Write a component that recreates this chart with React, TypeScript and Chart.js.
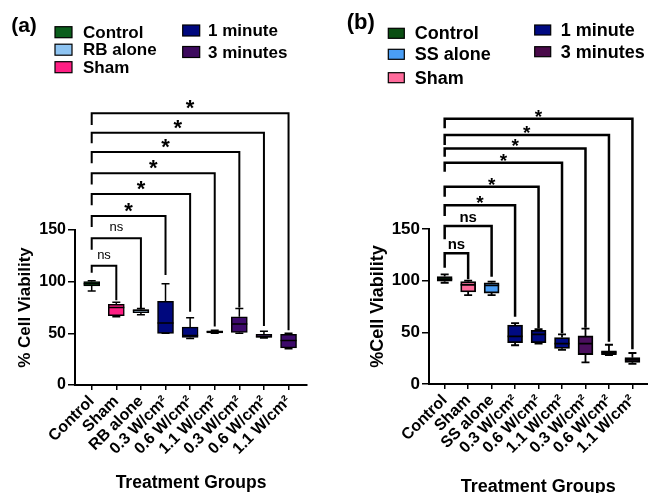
import { useEffect, useRef } from "react";
import { Chart, registerables } from "chart.js";

Chart.register(...registerables);
Chart.defaults.font.family = "'Liberation Sans', Arial, sans-serif";
Chart.defaults.color = "#000";

// ---------- Panel (a) data ----------
const categoriesA = ["Control", "Sham", "RB alone", "0.3 W/cm²", "0.6 W/cm²", "1.1 W/cm²", "0.3 W/cm²", "0.6 W/cm²", "1.1 W/cm²"];
const minA = [91, 66, 68, 50, 45, 50, 50, 45.5, 35];
const q1A = [96, 67, 70, 50, 46, 50.5, 51, 46, 36];
const medianA = [98, 75, 72, 60, 48, 51.5, 59, 47, 43];
const q3A = [100, 78, 73, 81, 56, 52.5, 66, 49, 49];
const maxA = [101, 80, 74, 98, 65, 53, 74, 52, 50];
const boxColorsA = ["#0b6b1e", "#ff1f84", "#8ec4f2", "#00087e", "#00087e", "#00087e", "#3d0a6b", "#3d0a6b", "#3d0a6b"];
const legendLabelsA = ["Control", "RB alone", "Sham", "1 minute", "3 minutes"];
const legendColorsA = ["#0b5e1c", "#8ec4f2", "#ff1f84", "#00087e", "#3d0a5e"];
const bracketTargetsA = [1, 2, 3, 4, 5, 6, 7, 8];
const bracketLevelsA = [115.5, 142, 163.5, 184.8, 204.9, 225.5, 244.2, 263];
const bracketStartsA = [108.7, 131, 153, 174, 194, 214.5, 234, 251.6];
const bracketEndsA = [82, 74.5, 106.5, 71, 56.5, 75, 57, 53];
const bracketLabelsA = ["ns", "ns", "*", "*", "*", "*", "*", "*"];

// ---------- Panel (b) data ----------
const categoriesB = ["Control", "Sham", "SS alone", "0.3 W/cm²", "0.6 W/cm²", "1.1 W/cm²", "0.3 W/cm²", "0.6 W/cm²", "1.1 W/cm²"];
const minB = [98, 86, 86, 37.5, 39, 33, 21, 28, 19.5];
const q1B = [99.5, 89, 88, 40, 40, 34.5, 28.5, 28.5, 21];
const medianB = [101.5, 96, 95.5, 46, 48, 39, 39, 30.5, 23.5];
const q3B = [104, 99, 98, 57, 52, 45, 46.5, 32, 25.5];
const maxB = [106, 100, 99, 59, 53, 48, 53.5, 38, 30];
const boxColorsB = ["#0a4e12", "#ff6b9b", "#4a9ef5", "#000a82", "#000a82", "#000a82", "#4b0f5e", "#1a0022", "#1a0022"];
const legendLabelsB = ["Control", "SS alone", "Sham", "1 minute", "3 minutes"];
const legendColorsB = ["#0a4e12", "#4a9ef5", "#ff6b9b", "#000a82", "#4a0a4a"];
const bracketTargetsB = [1, 2, 3, 4, 5, 6, 7, 8];
const bracketLevelsB = [126.5, 152.9, 172.9, 191, 214.2, 228, 241, 256.8];
const bracketStartsB = [112.6, 140, 162.6, 181.3, 205.5, 220, 231.3, 247.5];
const bracketEndsB = [101.3, 103.8, 65.1, 53.9, 49, 54.5, 41, 33.6];
const bracketLabelsB = ["ns", "ns", "*", "*", "*", "*", "*", "*"];

const yTitleA = "% Cell Viability";
const yTitleB = "%Cell Viability";
const xTitle = "Treatment Groups";

type Panel = {
  letter: string;
  cats: string[];
  min: number[]; q1: number[]; med: number[]; q3: number[]; max: number[];
  colors: string[];
  legendLabels: string[]; legendColors: string[];
  bTargets: number[]; bLevels: number[]; bStarts: number[]; bEnds: number[]; bLabels: string[];
  yTitle: string;
  layout: any;
};

const panelA: Panel = {
  letter: "(a)", cats: categoriesA, min: minA, q1: q1A, med: medianA, q3: q3A, max: maxA,
  colors: boxColorsA, legendLabels: legendLabelsA, legendColors: legendColorsA,
  bTargets: bracketTargetsA, bLevels: bracketLevelsA, bStarts: bracketStartsA, bEnds: bracketEndsA, bLabels: bracketLabelsA,
  yTitle: yTitleA,
  layout: {
    yWidth: 75, xHeight: 108, padTop: 230, padRight: 17, xMin: -0.679, xMax: 8.75,
    barW: 16, capW: 8, boxLW: 1.5, bracketLW: 2,
    letterX: 24, letterY: 26, letterFont: 21,
    sqW: 17, sqH: 11, legFont: 17,
    col1: { sx: 55, tx: 83, ys: [32.2, 49.7, 67.2] },
    col2: { sx: 182.7, tx: 208, ys: [30.5, 52] },
    nsFont: "400 13px 'Liberation Sans'", nsOff: -7,
    starFont: "700 22px 'Liberation Sans'", starOff: 2,
    yTickFont: 16, xTickFont: 16, yTitleFont: 17, yTitlePad: 15, xTitleFont: 17.5, xTitleLH: 1.1,
  },
};

const panelB: Panel = {
  letter: "(b)", cats: categoriesB, min: minB, q1: q1B, med: medianB, q3: q3B, max: maxB,
  colors: boxColorsB, legendLabels: legendLabelsB, legendColors: legendColorsB,
  bTargets: bracketTargetsB, bLevels: bracketLevelsB, bStarts: bracketStartsB, bEnds: bracketEndsB, bLabels: bracketLabelsB,
  yTitle: yTitleB,
  layout: {
    yWidth: 105, xHeight: 109, padTop: 229, padRight: 0, xMin: -0.668, xMax: 8.65,
    barW: 15, capW: 8, boxLW: 1.8, bracketLW: 2.5,
    letterX: 36.7, letterY: 22.5, letterFont: 22,
    sqW: 16, sqH: 10, legFont: 18,
    col1: { sx: 64.3, tx: 90.7, ys: [33.3, 54.3, 77.7] },
    col2: { sx: 210.7, tx: 236.7, ys: [30, 51.7] },
    nsFont: "700 15px 'Liberation Sans'", nsOff: -4,
    starFont: "700 19px 'Liberation Sans'", starOff: 4,
    yTickFont: 17, xTickFont: 16, yTitleFont: 18, yTitlePad: 43, xTitleFont: 18, xTitleLH: 0.7,
  },
};

function makeOverlay(p: Panel) {
  const L = p.layout;
  return {
    id: "boxOverlay",
    afterDatasetsDraw(chart: any) {
      const { ctx, scales } = chart;
      const xs = scales.x, ys = scales.y;
      ctx.save();
      ctx.strokeStyle = "#000";
      ctx.lineWidth = L.boxLW;
      p.cats.forEach((_, i) => {
        const x = xs.getPixelForValue(i);
        const yMin = ys.getPixelForValue(p.min[i]);
        const yMax = ys.getPixelForValue(p.max[i]);
        const yQ1 = ys.getPixelForValue(p.q1[i]);
        const yQ3 = ys.getPixelForValue(p.q3[i]);
        const yMed = ys.getPixelForValue(p.med[i]);
        ctx.beginPath();
        ctx.moveTo(x, yQ3); ctx.lineTo(x, yMax);
        ctx.moveTo(x - L.capW / 2, yMax); ctx.lineTo(x + L.capW / 2, yMax);
        ctx.moveTo(x, yQ1); ctx.lineTo(x, yMin);
        ctx.moveTo(x - L.capW / 2, yMin); ctx.lineTo(x + L.capW / 2, yMin);
        ctx.moveTo(x - L.barW / 2, yMed); ctx.lineTo(x + L.barW / 2, yMed);
        ctx.stroke();
      });
      ctx.restore();
    },
    afterDraw(chart: any) {
      const { ctx, scales } = chart;
      const xs = scales.x, ys = scales.y;
      ctx.save();
      ctx.strokeStyle = "#000";
      ctx.fillStyle = "#000";
      ctx.lineWidth = L.bracketLW;
      ctx.lineJoin = "miter";
      ctx.lineCap = "butt";
      p.bTargets.forEach((t, k) => {
        const x0 = xs.getPixelForValue(0);
        const x1 = xs.getPixelForValue(t);
        const yl = ys.getPixelForValue(p.bLevels[k]);
        ctx.beginPath();
        ctx.moveTo(x0, ys.getPixelForValue(p.bStarts[k]));
        ctx.lineTo(x0, yl);
        ctx.lineTo(x1, yl);
        ctx.lineTo(x1, ys.getPixelForValue(p.bEnds[k]));
        ctx.stroke();
        const lab = p.bLabels[k];
        ctx.textAlign = "center";
        ctx.textBaseline = "alphabetic";
        if (lab === "*") {
          ctx.font = L.starFont;
          ctx.fillText(lab, (x0 + x1) / 2, yl + L.starOff);
        } else {
          ctx.font = L.nsFont;
          ctx.fillText(lab, (x0 + x1) / 2, yl + L.nsOff);
        }
      });
      ctx.font = `700 ${L.letterFont}px 'Liberation Sans'`;
      ctx.textAlign = "center";
      ctx.textBaseline = "middle";
      ctx.fillText(p.letter, L.letterX, L.letterY);
      ctx.font = `700 ${L.legFont}px 'Liberation Sans'`;
      ctx.textAlign = "left";
      ctx.lineWidth = 1.2;
      p.legendLabels.forEach((lab, i) => {
        const col = i < 3 ? L.col1 : L.col2;
        const y = col.ys[i < 3 ? i : i - 3];
        ctx.fillStyle = p.legendColors[i];
        ctx.fillRect(col.sx, y - L.sqH / 2, L.sqW, L.sqH);
        ctx.strokeStyle = "#000";
        ctx.strokeRect(col.sx, y - L.sqH / 2, L.sqW, L.sqH);
        ctx.fillStyle = "#000";
        ctx.fillText(lab, col.tx, y + 1);
      });
      ctx.restore();
    },
  };
}

function PanelChart({ p, left }: { p: Panel; left: number }) {
  const ref = useRef<HTMLCanvasElement>(null);
  useEffect(() => {
    const L = p.layout;
    const chart = new Chart(ref.current!, {
      type: "bar",
      data: {
        datasets: [
          {
            data: p.cats.map((_, i) => ({ x: i, y: [p.q1[i], p.q3[i]] })) as any,
            backgroundColor: p.colors,
            borderColor: "#000",
            borderWidth: L.boxLW,
            borderSkipped: false,
            barThickness: L.barW,
          },
        ],
      },
      options: {
        responsive: false,
        animation: false,
        events: [],
        layout: { padding: { top: L.padTop, right: L.padRight, left: 0, bottom: 0 } },
        plugins: { legend: { display: false }, tooltip: { enabled: false } },
        scales: {
          x: {
            type: "linear",
            offset: false,
            min: L.xMin,
            max: L.xMax,
            afterBuildTicks: (s: any) => { s.ticks = p.cats.map((_, i) => ({ value: i })); },
            afterFit: (s: any) => { s.height = L.xHeight; },
            ticks: {
              autoSkip: false,
              minRotation: 45,
              maxRotation: 45,
              padding: 2,
              font: { size: L.xTickFont, weight: "bold" },
              color: "#000",
              callback: (v: any) => p.cats[v],
            },
            grid: { offset: false, drawOnChartArea: false, drawTicks: true, tickLength: 5, color: "#000", lineWidth: 1.5 },
            border: { display: true, color: "#000", width: 2 },
            title: {
              display: true, text: xTitle, color: "#000",
              font: { size: L.xTitleFont, weight: "bold", lineHeight: L.xTitleLH },
              padding: 0,
            },
          },
          y: {
            min: 0,
            max: 150,
            afterFit: (s: any) => { s.width = L.yWidth; },
            ticks: { stepSize: 50, padding: 2, font: { size: L.yTickFont, weight: "bold" }, color: "#000" },
            grid: { drawOnChartArea: false, drawTicks: true, tickLength: 7, color: "#000", lineWidth: 1.5 },
            border: { display: true, color: "#000", width: 2 },
            title: {
              display: true, text: p.yTitle, color: "#000",
              font: { size: L.yTitleFont, weight: "bold", lineHeight: 1.2 },
              padding: { top: L.yTitlePad, bottom: 0 },
            },
          },
        },
      } as any,
      plugins: [makeOverlay(p)],
    });
    return () => chart.destroy();
  }, [p]);
  return (
    <canvas
      ref={ref}
      width={324}
      height={493}
      style={{ position: "absolute", left, top: 0, width: 324, height: 493 }}
    />
  );
}

export default function App() {
  return (
    <div style={{ position: "absolute", left: 0, top: 0, width: 648, height: 493, background: "#fff" }}>
      <PanelChart p={panelA} left={0} />
      <PanelChart p={panelB} left={324} />
    </div>
  );
}
